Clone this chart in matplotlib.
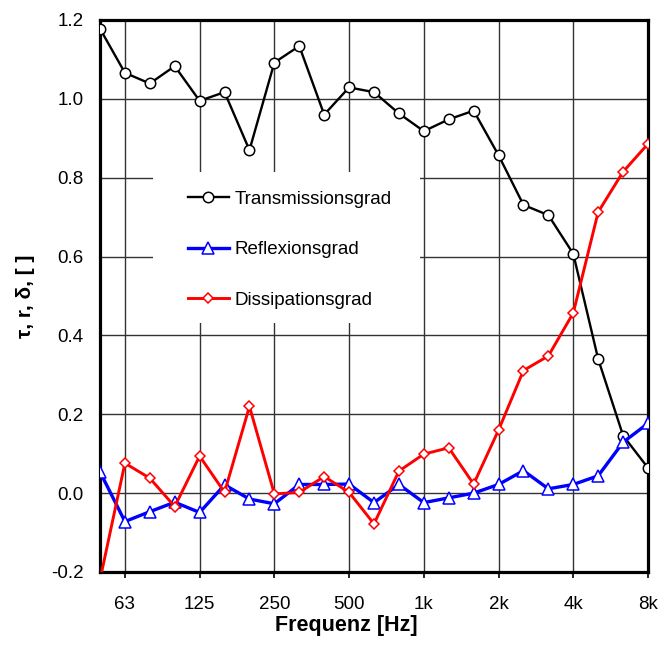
import numpy as np
import matplotlib
matplotlib.use("Agg")
import matplotlib.pyplot as plt
from matplotlib.patches import Rectangle

# third-octave band centre frequencies [Hz]
freqs = [50, 63, 80, 100, 125, 160, 200, 250, 315, 400, 500, 630,
         800, 1000, 1250, 1600, 2000, 2500, 3150, 4000, 5000, 6300, 8000]

transmission = [1.178, 1.066, 1.039, 1.083, 0.995, 1.017, 0.870, 1.092, 1.134,
                0.960, 1.029, 1.017, 0.963, 0.918, 0.948, 0.970, 0.857, 0.731,
                0.705, 0.607, 0.340, 0.146, 0.064]
reflection = [0.054, -0.072, -0.047, -0.023, -0.049, 0.021, -0.015, -0.027, 0.022,
              0.022, 0.023, -0.024, 0.022, -0.024, -0.012, 0.000, 0.022, 0.057,
              0.011, 0.022, 0.044, 0.129, 0.177]
dissipation = [-0.22, 0.076, 0.038, -0.034, 0.094, 0.002, 0.220, -0.002, 0.002,
               0.042, 0.002, -0.078, 0.056, 0.099, 0.115, 0.023, 0.160, 0.311,
               0.348, 0.457, 0.713, 0.815, 0.886]

tick_freqs = [63, 125, 250, 500, 1000, 2000, 4000, 8000]
tick_labels = ['63', '125', '250', '500', '1k', '2k', '4k', '8k']

plt.rcParams['font.family'] = ['Liberation Sans', 'DejaVu Sans']

fig = plt.figure(figsize=(6.59, 6.47), dpi=100)
ax = fig.add_axes([100 / 659, 1 - 572 / 647, 548 / 659, 552 / 647])

x = np.arange(len(freqs))
tick_pos = [freqs.index(f) for f in tick_freqs]

ax.plot(x, transmission, color='black', lw=1.7, marker='o', ms=7.5,
        mfc='white', mec='black', mew=1.1, label='Transmissionsgrad', zorder=3)
ax.plot(x, reflection, color='#0000ff', lw=2.4, marker='^', ms=8.5,
        mfc='white', mec='#0000ff', mew=1.1, label='Reflexionsgrad', zorder=4)
ax.plot(x, dissipation, color='#ff0000', lw=2.1, marker='D', ms=5.5,
        mfc='white', mec='#ff0000', mew=1.1, label='Dissipationsgrad', zorder=5)

ax.set_xlim(0, len(freqs) - 1)
ax.set_ylim(-0.2, 1.2)
ax.set_xticks(tick_pos)
ax.set_xticklabels(tick_labels)
ax.set_yticks(np.arange(-0.2, 1.21, 0.2))
ax.yaxis.set_major_formatter(matplotlib.ticker.FormatStrFormatter('%.1f'))

ax.set_axisbelow(True)
ax.grid(True, color='#333333', lw=1.0)
ax.tick_params(axis='x', length=4, width=1.2, pad=13, labelsize=13.5)
ax.tick_params(axis='y', length=0, pad=12, labelsize=13.5)
for s in ax.spines.values():
    s.set_linewidth(2.3)

# white box behind the legend hides the grid
ax.add_patch(Rectangle((0.097, 0.451), 0.487, 0.274, transform=ax.transAxes,
                       facecolor='white', edgecolor='none', zorder=1))
ax.legend(loc='center left', bbox_to_anchor=(0.144, 0.584), frameon=False,
          fontsize=13.5, borderpad=0, handlelength=2.15, handletextpad=0.3,
          labelspacing=1.79)

ax.set_xlabel('Frequenz [Hz]', fontsize=15.5, fontweight='bold')
ax.xaxis.set_label_coords(0.45, -0.077)
ax.set_ylabel('τ, r, δ, [ ]', fontsize=15, fontweight='bold')
ax.yaxis.set_label_coords(-0.118, 0.5)

fig.savefig('out.png', dpi=100)
